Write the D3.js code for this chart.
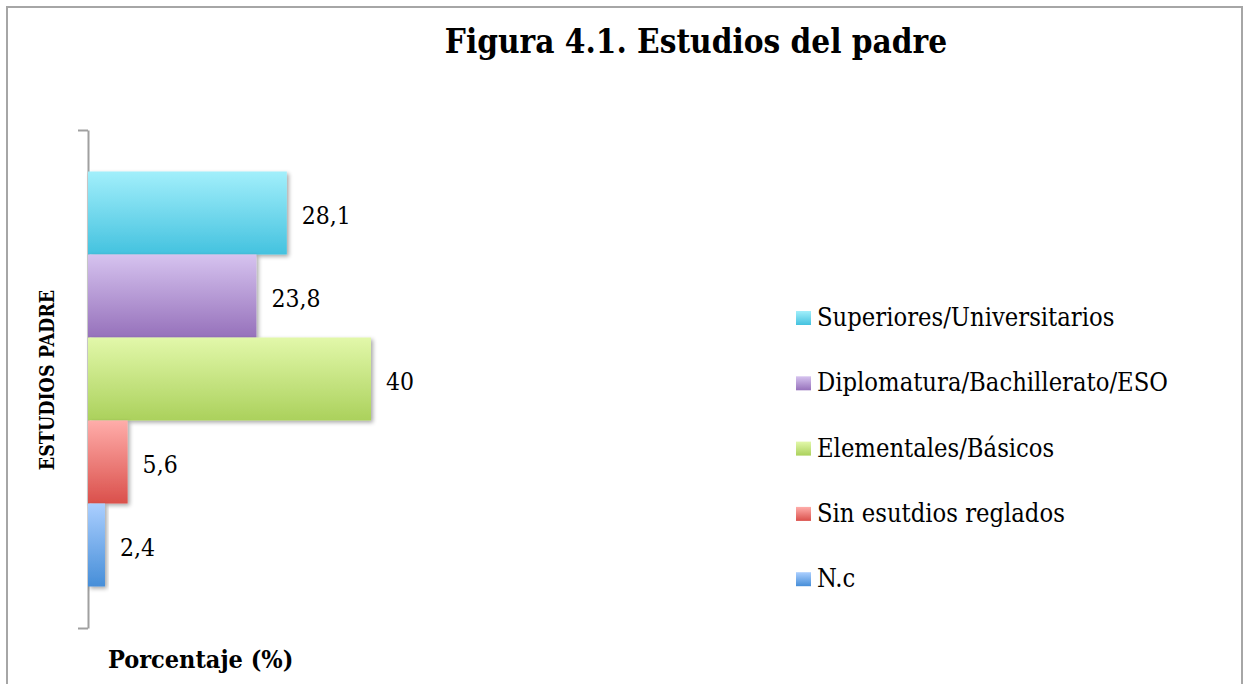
<!DOCTYPE html>
<html>
<head>
<meta charset="utf-8">
<script src="https://cdn.jsdelivr.net/npm/d3@7"></script>
<style>
    body { margin: 0; background: #fff; }
    text { font-family: "DejaVu Serif Condensed", "DejaVu Serif", serif; font-stretch: condensed; fill: #000; }
    .title { font-size: 33px; font-weight: bold; }
    .axisTitle { font-size: 19.5px; font-weight: bold; }
    .label { font-size: 24.5px; }
    .legendText { font-size: 25.3px; }
</style>
</head>
<body>
<script>
(function () {

    // data
    var categories = ["Superiores/Universitarios", "Diplomatura/Bachillerato/ESO",
        "Elementales/Básicos", "Sin esutdios reglados", "N.c"];
    var values = [28.1, 23.8, 40, 5.6, 2.4];
    var valueLabels = ["28,1", "23,8", "40", "5,6", "2,4"];
    var colorsTop = ["#a2effb", "#d6c3ef", "#e2f8aa", "#ffadaa", "#abcfff"];
    var colorsBottom = ["#44c2df", "#9671bb", "#abd15c", "#da504b", "#468ed8"];

    var width = 1249,
        height = 684;

    var svg = d3.select("body")
        .append("svg")
        .attr("width", width)
        .attr("height", height);

    var defs = svg.append("defs");

    var shadow = defs.append("filter")
        .attr("id", "shadow")
        .attr("x", "-10%").attr("y", "-10%")
        .attr("width", "130%").attr("height", "130%");
    shadow.append("feGaussianBlur")
        .attr("in", "SourceAlpha")
        .attr("stdDeviation", 2);
    shadow.append("feOffset")
        .attr("dx", 2).attr("dy", 2)
        .attr("result", "blur");
    shadow.append("feComponentTransfer")
        .append("feFuncA").attr("type", "linear").attr("slope", 0.35);
    var merge = shadow.append("feMerge");
    merge.append("feMergeNode");
    merge.append("feMergeNode").attr("in", "SourceGraphic");

    categories.forEach(function (c, i) {
        var g = defs.append("linearGradient")
            .attr("id", "grad" + i)
            .attr("x1", 0).attr("y1", 0)
            .attr("x2", 0).attr("y2", 1);
        g.append("stop").attr("offset", "0%").attr("stop-color", colorsTop[i]);
        g.append("stop").attr("offset", "100%").attr("stop-color", colorsBottom[i]);
    });

    // outer frame
    svg.append("rect")
        .attr("x", 7)
        .attr("y", 7)
        .attr("width", 1235)
        .attr("height", 690)
        .attr("fill", "none")
        .attr("stroke", "#a6a6a6")
        .attr("stroke-width", 2);

    svg.append("text")
        .attr("class", "title")
        .attr("x", 696)
        .attr("y", 53)
        .attr("text-anchor", "middle")
        .text("Figura 4.1. Estudios del padre");

    var x = d3.scaleLinear()
        .domain([0, 40])
        .range([88, 371]);

    var y = d3.scaleBand()
        .domain(categories)
        .range([130, 628])
        .paddingInner(0)
        .paddingOuter(0.5);

    // category axis: a single group, so only the end ticks show
    var yAxis = d3.axisLeft(d3.scaleLinear().domain([0, 1]).range([130, 628]))
        .tickValues([0, 1])
        .tickFormat("")
        .tickSize(10)
        .tickSizeOuter(0);

    var axis = svg.append("g")
        .attr("class", "axis")
        .attr("transform", "translate(88,0)")
        .call(yAxis);
    axis.selectAll("line, path")
        .attr("stroke", "#a0a0a0")
        .attr("stroke-width", 2);

    var bars = svg.selectAll(".bar")
        .data(categories)
        .enter()
        .append("rect")
        .attr("class", "bar")
        .attr("x", x(0))
        .attr("y", function (d) { return y(d); })
        .attr("width", function (d, i) { return x(values[i]) - x(0); })
        .attr("height", y.bandwidth())
        .attr("fill", function (d, i) { return "url(#grad" + i + ")"; })
        .attr("filter", "url(#shadow)");

    svg.selectAll(".label")
        .data(categories)
        .enter()
        .append("text")
        .attr("class", "label")
        .attr("x", function (d, i) { return x(values[i]) + 15; })
        .attr("y", function (d) { return y(d) + y.bandwidth() / 2 + 4; })
        .attr("dominant-baseline", "middle")
        .text(function (d, i) { return valueLabels[i]; });

    svg.append("text")
        .attr("class", "axisTitle")
        .attr("transform", "translate(54,380) rotate(-90)")
        .attr("text-anchor", "middle")
        .text("ESTUDIOS PADRE");

    svg.append("text")
        .attr("class", "axisTitle")
        .style("font-size", "25px")
        .attr("x", 108)
        .attr("y", 668)
        .text("Porcentaje (%)");

    // legend
    var legend = svg.selectAll(".legend")
        .data(categories)
        .enter()
        .append("g")
        .attr("class", "legend")
        .attr("transform", function (d, i) {
            return "translate(796," + (318 + i * 65.3) + ")";
        });

    legend.append("rect")
        .attr("x", 0)
        .attr("y", -7)
        .attr("width", 15)
        .attr("height", 14)
        .attr("fill", function (d, i) { return "url(#grad" + i + ")"; });

    legend.append("text")
        .attr("class", "legendText")
        .attr("x", 21)
        .attr("y", 1)
        .attr("dominant-baseline", "middle")
        .text(function (d) { return d; });

})();
</script>
</body>
</html>
